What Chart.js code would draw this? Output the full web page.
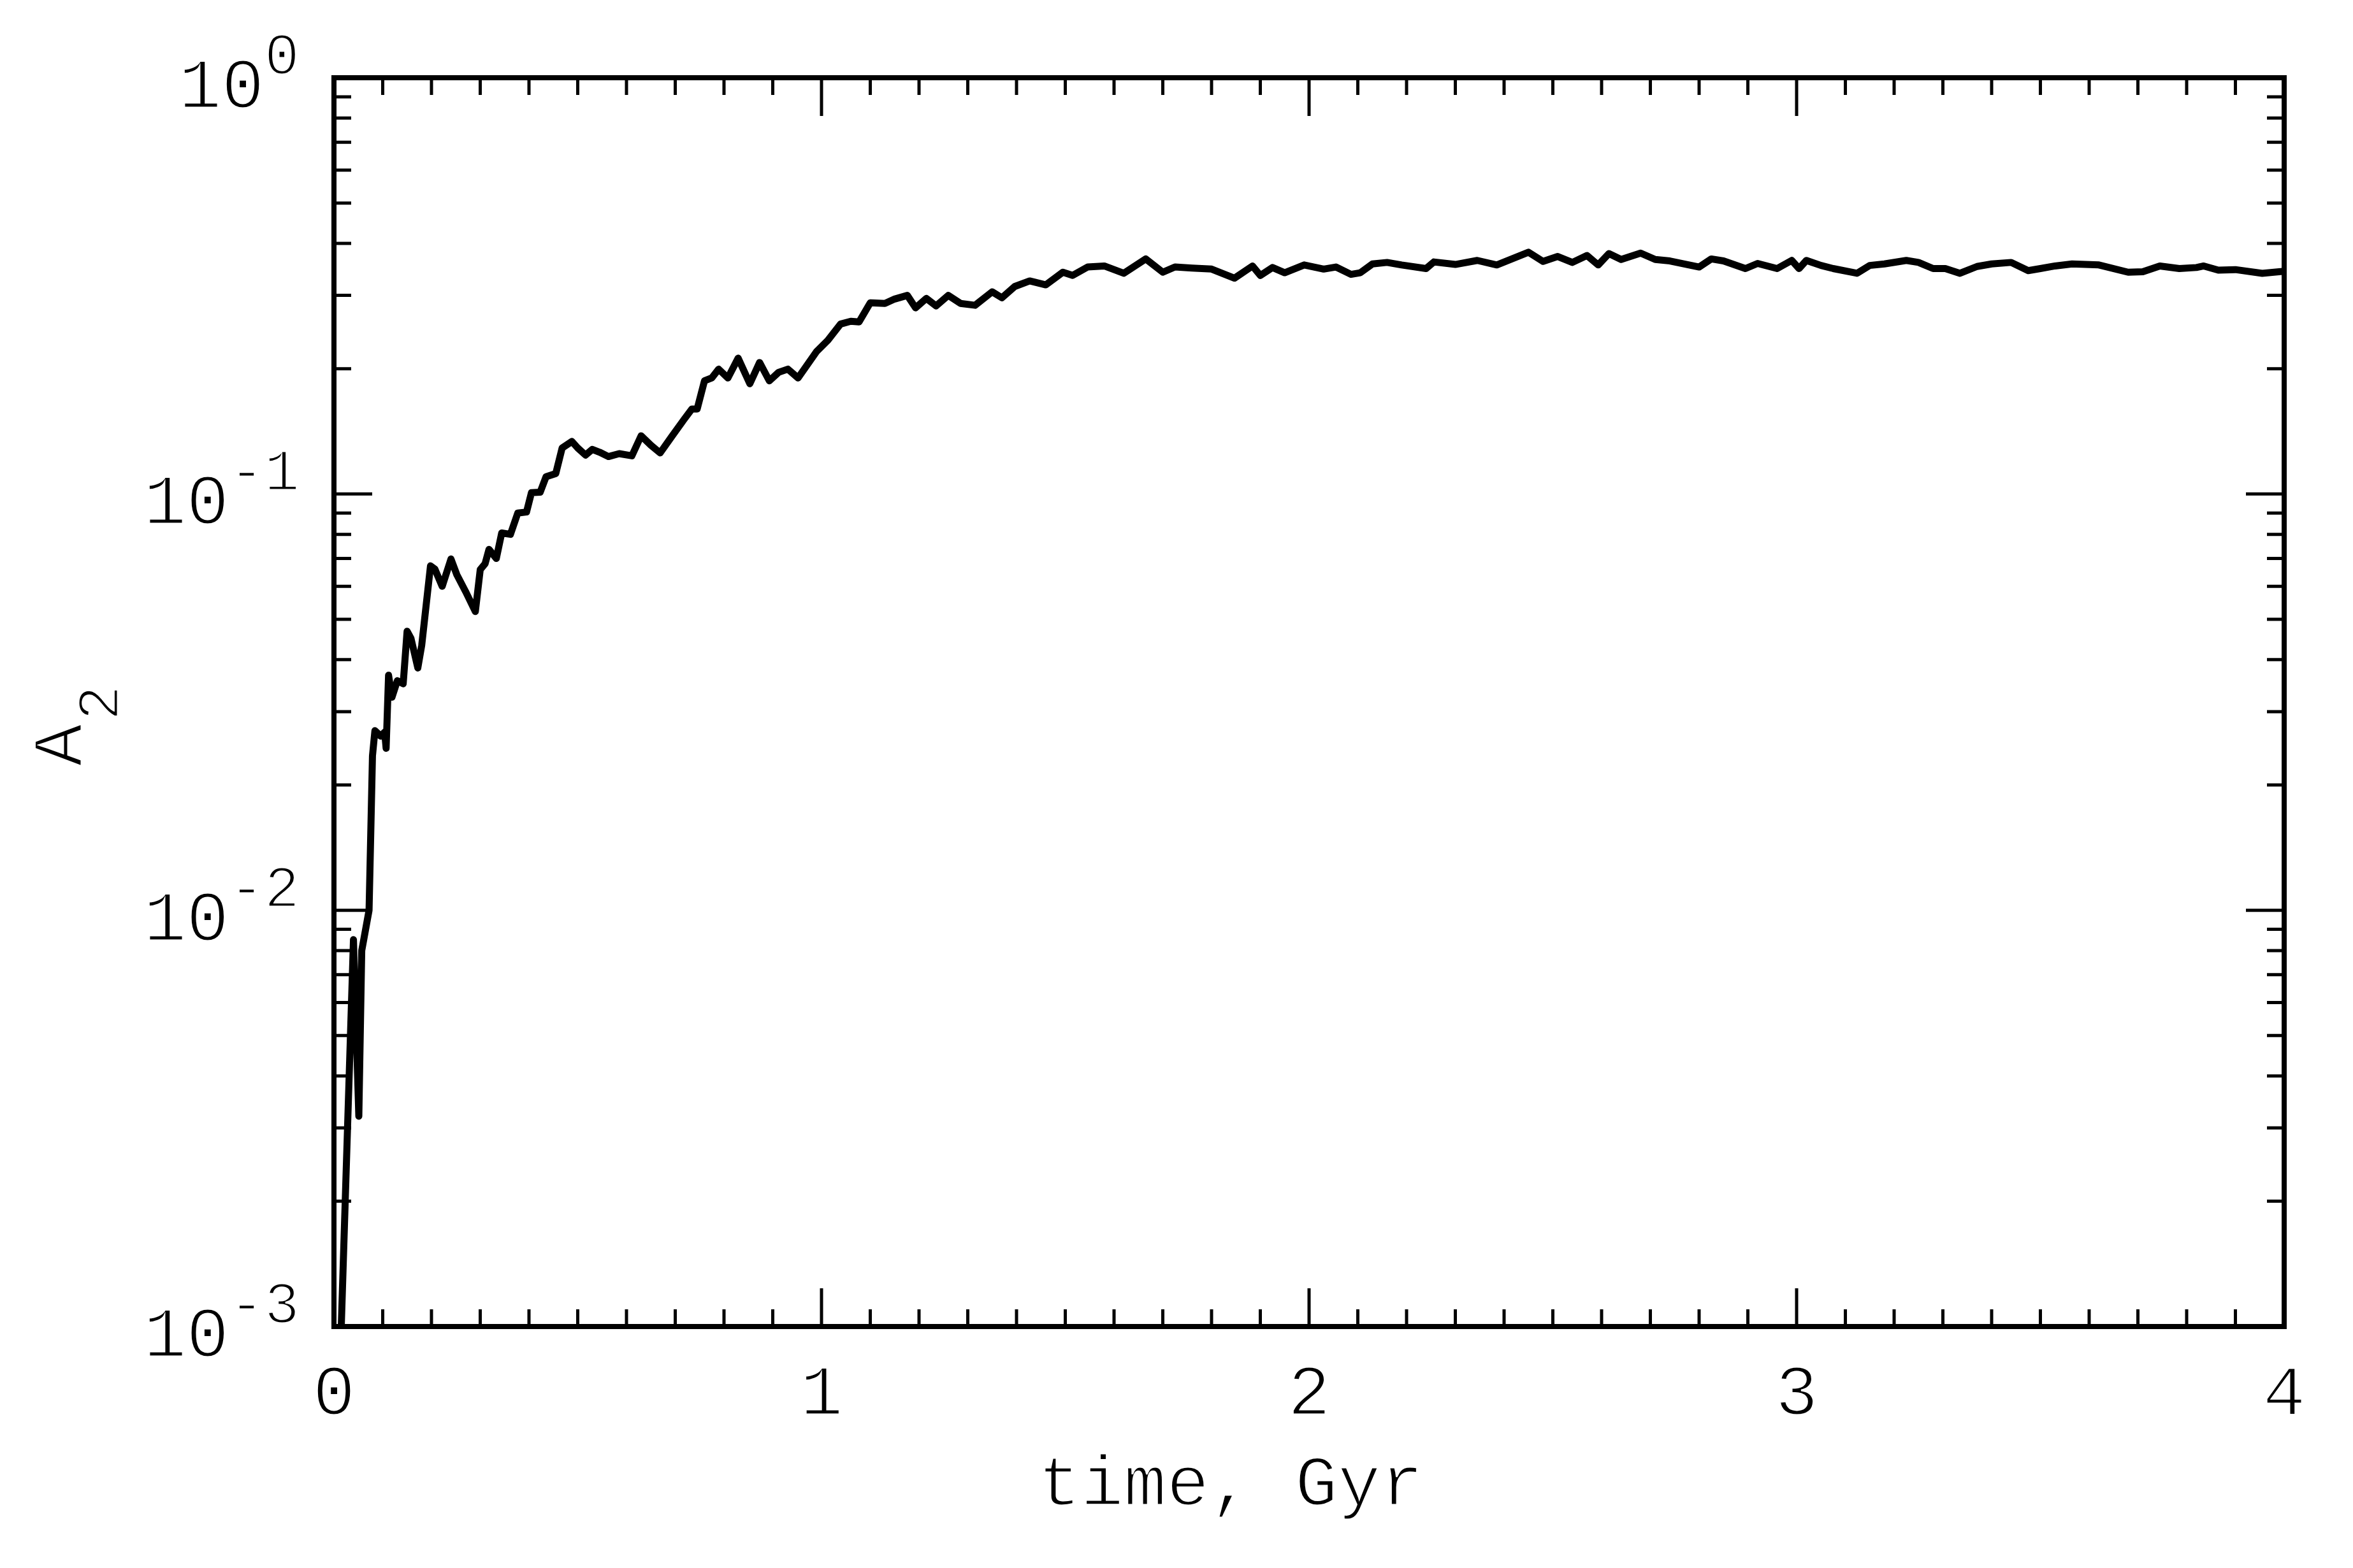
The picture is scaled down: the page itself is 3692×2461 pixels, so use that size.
<!DOCTYPE html>
<html>
<head>
<meta charset="utf-8">
<script src="https://cdn.jsdelivr.net/npm/chart.js@4/dist/chart.umd.min.js"></script>
<style>
  body { margin: 0; background: #fff; }
  canvas { display: block; }
</style>
</head>
<body>
<canvas id="a2Chart" width="3692" height="2461"></canvas>
<script>
// time in Gyr and bar amplitude A2
var times = [
  0.015, 0.040, 0.051, 0.057, 0.072, 0.079, 0.084, 0.096, 0.104, 0.107,
  0.112, 0.119, 0.130, 0.142, 0.150, 0.158, 0.172, 0.180, 0.198, 0.207,
  0.222, 0.240, 0.252, 0.270, 0.290, 0.300, 0.310, 0.318, 0.333, 0.344,
  0.362, 0.377, 0.395, 0.405, 0.423, 0.435, 0.455, 0.468, 0.488, 0.500,
  0.516, 0.530, 0.545, 0.563, 0.585, 0.611, 0.630, 0.650, 0.669, 0.692,
  0.718, 0.734, 0.745, 0.760, 0.775, 0.789, 0.808, 0.829, 0.853, 0.873,
  0.893, 0.912, 0.931, 0.952, 0.990, 1.013, 1.039, 1.060, 1.077, 1.100,
  1.130, 1.150, 1.176, 1.193, 1.215, 1.235, 1.260, 1.285, 1.315, 1.350,
  1.370, 1.396, 1.427, 1.460, 1.495, 1.515, 1.546, 1.580, 1.620, 1.665,
  1.700, 1.725, 1.760, 1.800, 1.847, 1.884, 1.900, 1.925, 1.950, 1.990,
  2.030, 2.055, 2.086, 2.105, 2.130, 2.160, 2.190, 2.240, 2.256, 2.300,
  2.345, 2.385, 2.450, 2.480, 2.510, 2.540, 2.570, 2.593, 2.615, 2.640,
  2.680, 2.710, 2.740, 2.800, 2.825, 2.850, 2.895, 2.920, 2.960, 2.990,
  3.005, 3.020, 3.050, 3.075, 3.124, 3.150, 3.180, 3.225, 3.250, 3.280,
  3.305, 3.335, 3.370, 3.400, 3.440, 3.475, 3.500, 3.530, 3.565, 3.620,
  3.680, 3.710, 3.745, 3.785, 3.820, 3.835, 3.865, 3.900, 3.955, 4.000
];
var a2 = [
  0.0010, 0.0085, 0.0032, 0.0080, 0.0100, 0.0235, 0.0270, 0.0262, 0.0268, 0.0245,
  0.0367, 0.0325, 0.0356, 0.0350, 0.0468, 0.0450, 0.0382, 0.0433, 0.0672, 0.0660,
  0.0600, 0.0698, 0.0640, 0.0583, 0.0522, 0.0658, 0.0680, 0.0736, 0.0700, 0.0806,
  0.0800, 0.0900, 0.0905, 0.1007, 0.1010, 0.1100, 0.1120, 0.1290, 0.1337, 0.1290,
  0.1240, 0.1280, 0.1260, 0.1230, 0.1250, 0.1235, 0.1380, 0.1310, 0.1255, 0.1370,
  0.1510, 0.1600, 0.1600, 0.1870, 0.1900, 0.1995, 0.1900, 0.2120, 0.1840, 0.2070,
  0.1870, 0.1960, 0.1995, 0.1900, 0.2200, 0.2340, 0.2560, 0.2600, 0.2590, 0.2880,
  0.2870, 0.2940, 0.3000, 0.2800, 0.2950, 0.2830, 0.3000, 0.2870, 0.2840, 0.3060,
  0.2960, 0.3150, 0.3250, 0.3180, 0.3410, 0.3350, 0.3510, 0.3530, 0.3390, 0.3670,
  0.3410, 0.3510, 0.3490, 0.3470, 0.3300, 0.3530, 0.3350, 0.3500, 0.3400, 0.3550,
  0.3470, 0.3510, 0.3370, 0.3400, 0.3570, 0.3600, 0.3550, 0.3480, 0.3610, 0.3560,
  0.3640, 0.3550, 0.3810, 0.3620, 0.3720, 0.3600, 0.3740, 0.3550, 0.3780, 0.3660,
  0.3790, 0.3660, 0.3630, 0.3510, 0.3670, 0.3630, 0.3480, 0.3580, 0.3480, 0.3640,
  0.3480, 0.3640, 0.3540, 0.3480, 0.3390, 0.3540, 0.3570, 0.3640, 0.3600, 0.3480,
  0.3480, 0.3390, 0.3520, 0.3570, 0.3600, 0.3440, 0.3480, 0.3530, 0.3570, 0.3550,
  0.3410, 0.3420, 0.3530, 0.3480, 0.3500, 0.3530, 0.3450, 0.3460, 0.3390, 0.3430
];
var xTickLabels = ['0', '1', '2', '3', '4'];
var yTickExponents = ['-3', '-2', '-1', '0'];

var points = times.map(function (t, i) { return { x: t, y: a2[i] }; });

var FONT = '"Liberation Mono", "DejaVu Sans Mono", monospace';

// thin text: fill, then shave the edges with a white outline
function thinText(ctx, s, x, y) {
  ctx.fillText(s, x, y);
  ctx.save();
  ctx.strokeStyle = '#fff';
  ctx.lineWidth = 3;
  ctx.strokeText(s, x, y);
  ctx.restore();
}

// IDL-style box: inward ticks on all four sides, labels with exponents
var idlFrame = {
  id: 'idlFrame',
  afterDatasetsDraw: function (chart) {
    var ctx = chart.ctx;
    var a = chart.chartArea;
    var x = chart.scales.x;
    var y = chart.scales.y;
    ctx.save();
    ctx.strokeStyle = '#000';
    ctx.fillStyle = '#000';

    // ticks
    ctx.lineWidth = 5;
    ctx.beginPath();
    for (var i = 0; i <= 40; i++) {
      var px = x.getPixelForValue(i / 10);
      var len = i % 10 === 0 ? 60 : 27;
      ctx.moveTo(px, a.bottom); ctx.lineTo(px, a.bottom - len);
      ctx.moveTo(px, a.top); ctx.lineTo(px, a.top + len);
    }
    for (var e = -3; e < 0; e++) {
      for (var k = 1; k <= 9; k++) {
        if (e === -3 && k === 1) continue;
        var py = y.getPixelForValue(k * Math.pow(10, e));
        var l = k === 1 ? 60 : 27;
        ctx.moveTo(a.left, py); ctx.lineTo(a.left + l, py);
        ctx.moveTo(a.right, py); ctx.lineTo(a.right - l, py);
      }
    }
    ctx.stroke();

    // frame
    ctx.lineWidth = 8;
    ctx.strokeRect(a.left, a.top, a.right - a.left, a.bottom - a.top);

    // x tick labels
    ctx.font = '112px ' + FONT;
    ctx.textAlign = 'center';
    ctx.textBaseline = 'alphabetic';
    xTickLabels.forEach(function (lab) {
      thinText(ctx, lab, x.getPixelForValue(Number(lab)), 2220);
    });

    // y tick labels: 10 with superscript exponent
    yTickExponents.forEach(function (ex) {
      var py = y.getPixelForValue(Math.pow(10, Number(ex)));
      ctx.font = '92px ' + FONT;
      var supW = ctx.measureText(ex).width;
      var right = 470;
      ctx.textAlign = 'left';
      thinText(ctx, ex, right - supW, py + 47 - 53);
      ctx.font = '112px ' + FONT;
      ctx.textAlign = 'right';
      thinText(ctx, '10', right - supW, py + 47);
    });

    // x title
    ctx.font = '112px ' + FONT;
    ctx.textAlign = 'center';
    thinText(ctx, 'time, Gyr', 1931, 2362);

    // y title A with subscript 2, rotated
    ctx.translate(128, 1203);
    ctx.rotate(-Math.PI / 2);
    ctx.textAlign = 'left';
    ctx.font = '112px ' + FONT;
    thinText(ctx, 'A', 0, 0);
    ctx.font = '92px ' + FONT;
    thinText(ctx, '2', 72, 57);

    ctx.restore();
  }
};

var ctx = document.getElementById('a2Chart').getContext('2d');
var chart = new Chart(ctx, {
  type: 'line',
  data: {
    datasets: [{
      data: points,
      borderColor: '#000',
      borderWidth: 11,
      borderJoinStyle: 'round',
      borderCapStyle: 'round',
      pointRadius: 0,
      tension: 0,
      fill: false
    }]
  },
  options: {
    responsive: false,
    animation: false,
    devicePixelRatio: 1,
    layout: { padding: { left: 516, top: 122, right: 108, bottom: 371 } },
    plugins: { legend: { display: false }, tooltip: { enabled: false } },
    scales: {
      x: {
        type: 'linear', min: 0, max: 4,
        grid: { display: false }, border: { display: false }, ticks: { display: false }
      },
      y: {
        type: 'logarithmic', min: 0.001, max: 1,
        grid: { display: false }, border: { display: false }, ticks: { display: false }
      }
    }
  },
  plugins: [idlFrame]
});
</script>
</body>
</html>
